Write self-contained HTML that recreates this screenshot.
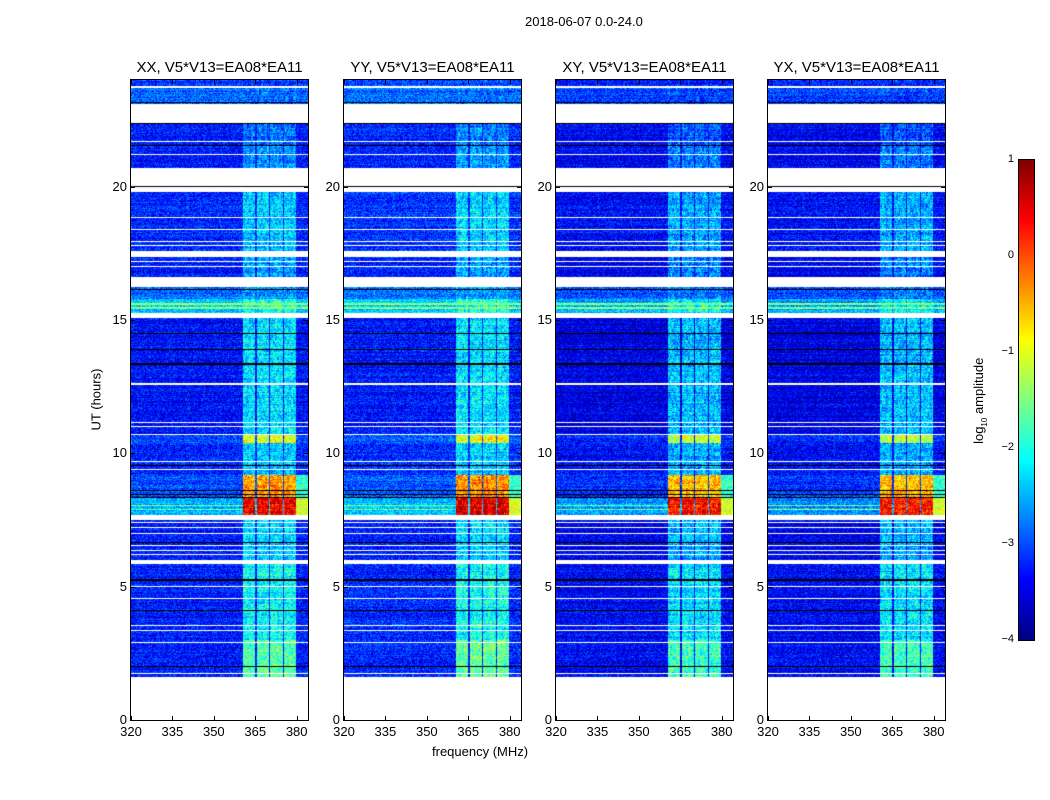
<!DOCTYPE html>
<html><head><meta charset="utf-8">
<style>
body{margin:0;background:#fff;font-family:"Liberation Sans",sans-serif;}
#wrap{position:relative;width:1050px;height:800px;overflow:hidden;background:#fff;}
.t{position:absolute;font-size:13px;color:#000;white-space:nowrap;}
canvas{position:absolute;}
</style></head><body>
<div id="wrap">
<div class="t" style="left:525px;top:14px;">2018-06-07 0.0-24.0</div>
<div class="t" style="left:432px;top:744px;">frequency (MHz)</div>
<div class="t" style="left:56px;top:392px;transform:rotate(-90deg);transform-origin:center;width:80px;text-align:center;">UT (hours)</div>
<div class="t" style="left:930px;top:392px;transform:rotate(-90deg);width:100px;text-align:center;">log<sub style="font-size:8px">10</sub> amplitude</div>
<canvas id="cb" width="15" height="480" style="left:1019px;top:160px;border:1px solid #000;box-sizing:content-box;margin:-1px"></canvas>
</div>
<script>
const panelTitles=["XX, V5*V13=EA08*EA11","YY, V5*V13=EA08*EA11","XY, V5*V13=EA08*EA11","YX, V5*V13=EA08*EA11"];
const panelOffsets=[0,0.05,-0.15,-0.15];
const xTicks=[320,335,350,365,380];
const yTicks=[0,5,10,15,20];
const cbTicks=[1,0,-1,-2,-3,-4];
// segments: [startHour, endHour, baseLevel, rfiLevel]
const segments=[[1.6,3.0,-3.25,-1.7],[3.0,5.85,-3.25,-2.1],[6.0,6.7,-3.3,-2.4],[6.7,7.5,-3.3,-2.3],[7.7,8.35,-2.5,0.45],[8.35,9.2,-3.0,-0.4],[9.2,10.4,-3.2,-2.4],[10.4,10.7,-3.0,-1.0],[10.7,15.07,-3.35,-2.3],[15.25,15.8,-2.4,-2.0],[15.8,16.25,-2.8,-2.6],[16.4,17.6,-3.3,-2.6],[17.6,19.8,-3.2,-2.4],[20.05,21.55,-3.25,-2.6],[21.55,22.35,-3.25,-2.8],[22.9,23.7,-2.9,-2.9],[23.7,24,-3.1,-3.1]];
const gaps=[[5.85,6.0],[7.5,7.7],[20.05,20.7],[22.4,22.8],[22.9,23.1],[23.7,23.76],[19.8,19.9],[17.35,17.6],[16.4,16.6],[15.07,15.25]];
const whiteLines=[5.0,4.57,3.56,3.37,2.92,1.76,6.56,6.37,6.19,13.2,13.05,12.6,12.3,11.7,11.17,11.02,10.72,10.2,9.7,9.4,7.4,7.2,7.0,21.7,19.5,18.85,18.4,17.95,17.8,17.2,17.0,16.8,21.2,21.0];
const blackLines=[5.25,4.12,2.02,14.5,13.9,13.35,9.55,8.6,8.45,8.35,6.65,20.0,16.15,16.2,22.35,23.15,21.55];
const rfiBands=[[360.6,365.0],[365.5,369.8],[370.3,375.0],[375.5,379.8]];
const brightLines=[7.9,8.05,15.45,15.6];

const W=177,H=640,TOP=80,LEFTS=[131,344,556,768];
const F0=320,F1=384.1,T0=0,T1=24;
const xs=f=>(f-F0)/(F1-F0)*W, ys=h=>H-(h-T0)/(T1-T0)*H;
const fAt=px=>F0+(px+0.5)/W*(F1-F0), hAt=py=>T1-(py+0.5)/H*(T1-T0);
function jet(v){let t=Math.max(0,Math.min(1,(v+4)/5));const c=x=>Math.round(255*Math.max(0,Math.min(1,x)));
return [c(1.5-Math.abs(4*t-3)),c(1.5-Math.abs(4*t-2)),c(1.5-Math.abs(4*t-1))];}
function hash(a,b){let h=(a*374761393+b*668265263)|0;h=(h^(h>>>13))*1274126177|0;return ((h^(h>>>16))>>>0)/4294967296;}
const wrap=document.getElementById('wrap');
function addText(txt,x,y,name,align){const d=document.createElement('div');d.className='t';d.textContent=txt;


d.style.top=y+'px';if(align==='right'){d.style.right=(1050-x)+'px';}else{d.style.left=x+'px';d.style.transform='translateX(-50%)';}wrap.appendChild(d);}
function nearLine(arr,h,tol){return arr.some(l=>Math.abs(l-h)<tol);}
LEFTS.forEach((L,p)=>{
  const cv=document.createElement('canvas');cv.width=W;cv.height=H;cv.style.left=L+'px';cv.style.top=TOP+'px';
  
  
  wrap.appendChild(cv);const ctx=cv.getContext('2d');const img=ctx.createImageData(W,H);
  const tol=0.5*(T1-T0)/H;
  for(let py=0;py<H;py++){const h=hAt(py);
    const seg=segments.find(s=>h>=s[0]&&h<s[1]);
    let mode='data';
    if(!seg||gaps.some(g=>h>=g[0]&&h<g[1])||nearLine(whiteLines,h,tol))mode='white';
    if(nearLine(blackLines,h,tol))mode='black';
    const rowN=(hash(py,999+p)-0.5)*0.3;
    const bright=nearLine(brightLines,h,tol*1.5);
    for(let px=0;px<W;px++){const i=(py*W+px)*4;let rgb;
      if(mode==='white')rgb=[255,255,255];else if(mode==='black')rgb=[0,0,0];else{
        const f=fAt(px);let v=seg[2]+panelOffsets[p];
        if(bright)v=Math.max(v,-1.5);
        let inRfi=rfiBands.some(b=>f>=b[0]&&f<b[1]);
        if(inRfi){v=Math.max(v,seg[3]+panelOffsets[p]);v+=(hash(px>>1,(py>>2)+p*31)-0.5)*0.5;}
        if(f>379.8&&f<384.1&&seg[3]>-1)v=Math.max(v,seg[3]-1.5);
        v+=(hash(px+p*7,py)-0.5)*0.9+rowN;
        rgb=jet(v);}
      img.data[i]=rgb[0];img.data[i+1]=rgb[1];img.data[i+2]=rgb[2];img.data[i+3]=255;}}
  ctx.putImageData(img,0,0);
  const fr=document.createElement('div');fr.style.cssText=`position:absolute;left:${L-1}px;top:${TOP-1}px;width:${W}px;height:${H}px;border:1px solid #000;`;
  
  
  wrap.appendChild(fr);
  const tt=document.createElement('div');tt.className='t';tt.style.fontSize='15px';tt.textContent=panelTitles[p];
  tt.style.left=(L+W/2)+'px';tt.style.top='59px';tt.style.transform='translateX(-50%)';
  
  
  wrap.appendChild(tt);
  xTicks.forEach(v=>{const x=L+xs(v);
    [[TOP+H-4],[TOP]].forEach(([y])=>{const tk=document.createElement('div');tk.style.cssText=`position:absolute;left:${x}px;top:${y}px;width:1px;height:4px;background:#000;`;
    
    
    wrap.appendChild(tk);});
    addText(String(v),x,724,'x-tick-label');});
  yTicks.forEach(v=>{const y=TOP+ys(v);
    [[L],[L+W-4]].forEach(([x])=>{const tk=document.createElement('div');tk.style.cssText=`position:absolute;left:${x}px;top:${y}px;width:4px;height:1px;background:#000;`;
    
    
    wrap.appendChild(tk);});
    addText(String(v),L-4,y-8,'y-tick-label','right');});
});
// colorbar
const cb=document.getElementById('cb').getContext('2d');
for(let y=0;y<480;y++){const v=1-(y+0.5)/480*5;const c=jet(v);cb.fillStyle=`rgb(${c[0]},${c[1]},${c[2]})`;cb.fillRect(0,y,15,1);}
cbTicks.forEach(v=>{const y=160+(1-v)/5*480;
  const d=document.createElement('div');d.className='t';d.style.fontSize='11px';d.textContent=v<0?'\u2212'+(-v):String(v);
  d.style.right=(1050-1014)+'px';d.style.top=(y-7)+'px';
  
  
  wrap.appendChild(d);});
</script>
</body></html>
